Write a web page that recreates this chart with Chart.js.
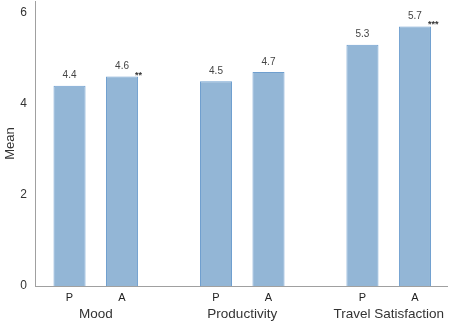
<!DOCTYPE html>
<html>
<head>
<meta charset="utf-8">
<script src="https://cdn.jsdelivr.net/npm/chart.js@4"></script>
<style>
  html, body { margin: 0; padding: 0; background: #fff; }
  #wrap { width: 450px; height: 326px; }
</style>
</head>
<body>
<div id="wrap"><canvas id="means"></canvas></div>
<script>
  // values
  const categories = ['Mood', 'Productivity', 'Travel Satisfaction'];
  const conditions = ['P', 'A'];
  const pValues = [4.4, 4.5, 5.3];
  const aValues = [4.6, 4.7, 5.7];
  const aSignificance = ['**', '', '***'];
  const yTicks = [0, 2, 4, 6];

  const FONT = "'Liberation Sans', Arial, sans-serif";

  // labels on top of bars, stars, and P / A under each bar
  const barLabels = {
    id: 'barLabels',
    afterDatasetsDraw(chart) {
      const ctx = chart.ctx;
      ctx.save();
      chart.data.datasets.forEach((ds, di) => {
        const meta = chart.getDatasetMeta(di);
        meta.data.forEach((bar, i) => {
          const v = ds.data[i].y;
          ctx.fillStyle = '#444';
          ctx.font = '10px ' + FONT;
          ctx.textAlign = 'center';
          ctx.textBaseline = 'bottom';
          ctx.fillText(v.toFixed(1), bar.x, bar.y - 5);

          if (ds.stars && ds.stars[i]) {
            ctx.font = 'bold 9px ' + FONT;
            ctx.textAlign = 'left';
            ctx.fillStyle = '#333';
            ctx.fillText(ds.stars[i], bar.x + 13, bar.y + 3);
          }

          ctx.font = '11px ' + FONT;
          ctx.textAlign = 'center';
          ctx.textBaseline = 'middle';
          ctx.fillStyle = '#222';
          ctx.fillText(ds.label, bar.x, chart.chartArea.bottom + 12);
        });
      });
      ctx.restore();
    }
  };

  const means = document.getElementById('means').getContext('2d');

  const meansChart = new Chart(means, {
    type: 'bar',
    data: {
      datasets: [
        {
          label: conditions[0],
          data: pValues.map((v, i) => ({ x: i + 1, y: v })),
          backgroundColor: '#93b6d6',
          borderColor: '#6f9fcf',
          borderWidth: 1
        },
        {
          label: conditions[1],
          data: aValues.map((v, i) => ({ x: i + 1, y: v })),
          stars: aSignificance,
          backgroundColor: '#93b6d6',
          borderColor: '#6f9fcf',
          borderWidth: 1
        }
      ]
    },
    options: {
      responsive: true,
      maintainAspectRatio: false,
      animation: false,
      categoryPercentage: 0.717,
      barPercentage: 0.61,
      layout: { padding: { top: 1, right: 3, left: 0, bottom: 0 } },
      plugins: {
        legend: { display: false },
        tooltip: { enabled: false }
      },
      scales: {
        x: {
          type: 'linear',
          offset: false,
          min: 0.585,
          max: 3.398,
          afterBuildTicks: (scale) => {
            scale.ticks = categories.map((c, i) => ({ value: i + 1 }));
          },
          afterFit: (scale) => {
            scale.height = 40;
            scale.paddingLeft = 0;
            scale.paddingRight = 0;
          },
          grid: { display: false, drawTicks: false, offset: false },
          border: { display: true, color: '#a0a0a0', width: 1 },
          ticks: {
            padding: 20,
            autoSkip: false,
            maxRotation: 0,
            color: '#333',
            font: { family: FONT, size: 13.5 },
            callback: (value) => categories[value - 1] || ''
          }
        },
        y: {
          min: 0,
          max: 6.26,
          afterBuildTicks: (scale) => {
            scale.ticks = yTicks.map(v => ({ value: v }));
          },
          afterFit: (scale) => {
            scale.width = 35;
            scale.paddingTop = 0;
            scale.paddingBottom = 0;
          },
          grid: { display: false, drawTicks: false },
          border: { display: true, color: '#a0a0a0', width: 1 },
          title: {
            display: true,
            text: 'Mean',
            color: '#333',
            font: { family: FONT, size: 13 },
            padding: { top: 3, bottom: 0 }
          },
          ticks: {
            padding: 8,
            color: '#333',
            font: { family: FONT, size: 12 }
          }
        }
      }
    },
    plugins: [barLabels]
  });
</script>
</body>
</html>
